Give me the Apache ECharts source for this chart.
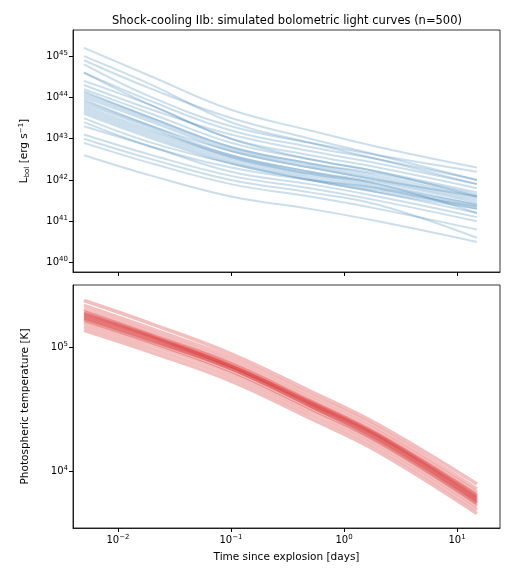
<!DOCTYPE html>
<html><head><meta charset="utf-8">
<script src="https://cdn.jsdelivr.net/npm/echarts@6/dist/echarts.min.js"></script>
<style>body{margin:0}#c{width:512px;height:576px}</style></head>
<body><div id="c"></div>
<script>
const times = [0.005, 0.02, 0.1, 0.5, 2, 15];
// log10 bolometric luminosity curves
const lumCurves = [
[45.2,44.5,43.7,43.2,42.8,42.3],[44.9,44.2,43.5,43.0,42.6,42.0],[44.6,43.9,43.2,42.8,42.5,42.0],
[44.4,43.8,43.0,42.6,42.3,41.8],[44.2,43.6,42.9,42.5,42.2,41.7],[44.1,43.5,42.8,42.4,42.1,41.6],
[44.0,43.4,42.7,42.3,42.0,41.5],[43.9,43.3,42.7,42.3,42.0,41.6],[43.8,43.2,42.6,42.2,41.9,41.4],
[43.7,43.1,42.5,42.1,41.8,41.3],[43.6,43.0,42.4,42.0,41.7,41.3],[43.5,42.9,42.4,42.0,41.7,41.2],
[43.3,42.8,42.2,41.9,41.6,41.1],[43.1,42.6,42.1,41.8,41.5,41.0],[42.9,42.4,41.9,41.6,41.3,40.8],
[42.6,42.1,41.6,41.3,41.0,40.5],[44.3,43.7,43.1,42.7,42.4,41.9],[43.95,43.3,42.6,42.2,41.95,41.45],
[44.6,43.8,43.0,42.5,42.2,41.6],[43.4,42.8,42.3,42.0,41.8,41.35],[45.0,44.3,43.4,42.9,42.5,41.9],
[43.0,42.5,42.0,41.7,41.4,40.6],[44.8,44.0,43.3,42.9,42.6,42.2],[43.85,43.25,42.55,42.15,41.9,41.2],
[44.05,43.45,42.75,42.35,42.05,41.55],[43.75,43.15,42.55,42.15,41.85,41.4],[44.15,43.5,42.8,42.4,42.15,41.65],
[43.65,43.05,42.45,42.05,41.75,41.35]
];
// log10 photospheric temperature curves
const tempCurves = [
[5.38,5.19,4.95,4.65,4.38,3.90],[5.34,5.15,4.92,4.62,4.35,3.86],[5.31,5.12,4.89,4.59,4.32,3.83],
[5.29,5.10,4.87,4.57,4.30,3.81],[5.27,5.09,4.86,4.56,4.29,3.79],[5.26,5.08,4.85,4.55,4.28,3.78],
[5.25,5.07,4.84,4.54,4.27,3.77],[5.24,5.06,4.83,4.53,4.26,3.76],[5.22,5.04,4.81,4.51,4.24,3.74],
[5.20,5.02,4.79,4.49,4.22,3.72],[5.17,4.99,4.76,4.46,4.19,3.69],[5.14,4.96,4.73,4.43,4.16,3.66],
[5.28,5.09,4.85,4.56,4.29,3.80],[5.23,5.05,4.83,4.53,4.25,3.75]
];
const xTicks = [0.01, 0.1, 1, 10];
const lumTicks = [1e40,1e41,1e42,1e43,1e44,1e45];
const tempTicks = [1e4,1e5];

const fmt = v => { const e = Math.round(Math.log10(v)); return '{b|10}{s|' + (e<0?'−'+(-e):e) + '}'; };
const rich = {b:{fontSize:10,color:'#000'}, s:{fontSize:7,color:'#000',verticalAlign:'top',padding:[0,0,6,0]}};
const ff = 'DejaVu Sans';
function mkSeries(curves, color, xi, yi, w, op){
  return curves.map(c => ({type:'line', xAxisIndex:xi, yAxisIndex:yi, symbol:'none', smooth:0.4,
    silent:true, lineStyle:{color:color, width:w, opacity:op},
    data: c.map((v,i)=>[times[i], Math.pow(10,v)])}));
}
const xBase = (gi, labels) => ({type:'log', gridIndex:gi, min:0.004, max:24,
  axisLine:{show:true,lineStyle:{color:'#000',width:0.8}}, splitLine:{show:false},
  axisTick:{show:true, customValues:xTicks, length:4, inside:false, lineStyle:{color:'#000'}},
  axisLabel:{show:labels, customValues:xTicks, formatter:fmt, rich:rich, margin:6},
  nameTextStyle:{fontFamily:ff}});
const chart = echarts.init(document.getElementById('c'));
chart.setOption({
  textStyle:{fontFamily:ff},
  title:{text:'Shock-cooling IIb: simulated bolometric light curves (n=500)', left:282, top:10, textAlign:'center',
    textStyle:{fontSize:11.5, fontWeight:'normal', color:'#000', fontFamily:ff}},
  grid:[{left:73,right:12,top:30,height:242,show:true,borderColor:'#000',borderWidth:0.8},
        {left:73,right:12,top:285,height:243,show:true,borderColor:'#000',borderWidth:0.8}],
  xAxis:[xBase(0,false), Object.assign(xBase(1,true), {name:'Time since explosion [days]', nameLocation:'middle', nameGap:24,
    nameTextStyle:{fontSize:10.5,color:'#000',fontFamily:ff}})],
  yAxis:[
    {type:'log', gridIndex:0, min:5.9e39, max:4.3e45, splitLine:{show:false},
     axisLine:{show:true,lineStyle:{color:'#000',width:0.8}},
     axisTick:{customValues:lumTicks,length:4,lineStyle:{color:'#000'}},
     axisLabel:{customValues:lumTicks,formatter:fmt,rich:rich,margin:5},
     name:'{n|L}{sb|bol}{n| [erg s}{sp|−1}{n|]}', nameLocation:'middle', nameGap:42,
     nameTextStyle:{rich:{n:{fontSize:10.5,color:'#000'},sb:{fontSize:7,color:'#000',verticalAlign:'bottom',padding:[6,0,0,0]},sp:{fontSize:7,color:'#000',verticalAlign:'top',padding:[0,0,6,0]}}}},
    {type:'log', gridIndex:1, min:3500, max:3.2e5, splitLine:{show:false},
     axisLine:{show:true,lineStyle:{color:'#000',width:0.8}},
     axisTick:{customValues:tempTicks,length:4,lineStyle:{color:'#000'}},
     axisLabel:{customValues:tempTicks,formatter:fmt,rich:rich,margin:5},
     name:'Photospheric temperature [K]', nameLocation:'middle', nameGap:42,
     nameTextStyle:{fontSize:10.5,color:'#000',fontFamily:ff}}
  ],
  series:[...mkSeries(lumCurves,'#2f7ab5',0,0,2,0.25), ...mkSeries(tempCurves,'#d62728',1,1,3.5,0.3)]
});
</script></body></html>
